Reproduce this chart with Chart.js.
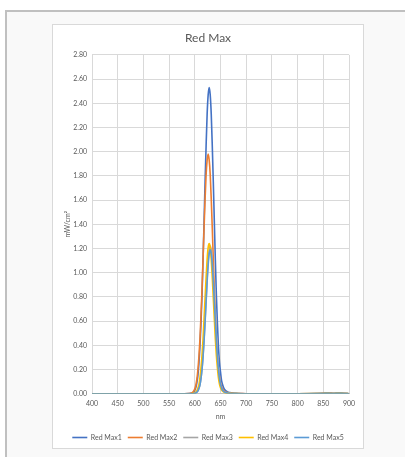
<!DOCTYPE html>
<html><head><meta charset="utf-8">
<script src="https://cdn.jsdelivr.net/npm/chart.js@4/dist/chart.umd.min.js"></script>
<style>
html,body{margin:0;padding:0;background:#fff;width:405px;height:457px;overflow:hidden;}
#frame{position:absolute;left:5px;top:10px;width:400px;height:447px;background:#f9f9f9;border-top:2px solid #c0c0c0;border-left:2px solid #c0c0c0;box-sizing:border-box;}
#box{position:absolute;left:52px;top:24px;width:312px;height:425px;background:#fff;border:1px solid #d9d9d9;box-sizing:border-box;}
#c{position:absolute;left:38px;top:25px;}
</style></head><body>
<div id="frame"></div>
<div id="box"></div>
<canvas id="c" width="340" height="423"></canvas>
<script>
const title = "Red Max";
const xTitle = "nm";
const yTitle = "mW/cm\u00B2";
const seriesNames = ["Red Max1","Red Max2","Red Max3","Red Max4","Red Max5"];
const seriesColors = ["#4472C4","#ED7D31","#A5A5A5","#FFC000","#5B9BD5"];

const wavelengths = [400,450,500,550,570,580,588,592,596,
  598,600,602,604,606,608,610,612,614,616,618,620,622,624,626,628,630,632,634,636,638,640,642,644,646,648,650,652,654,656,658,660,
  664,668,674,680,690,700,750,800,840,850,860,870,880,890,900];

const redMax1 = [0,0,0,0,0,0,0.001,0.003,0.008,
  0.015,0.028,0.05,0.09,0.15,0.25,0.39,0.58,0.81,1.10,1.42,1.75,2.05,2.31,2.47,2.53,2.47,2.31,2.05,1.75,1.42,1.10,0.81,0.58,0.39,0.26,0.18,0.11,0.076,0.05,0.035,0.025,
  0.015,0.01,0.005,0.003,0.001,0,0,0,0.002,0.004,0.006,0.003,0.008,0.003,0];
const redMax2 = [0,0,0,0,0,0,0.001,0.004,0.012,
  0.022,0.04,0.07,0.12,0.196,0.305,0.45,0.64,0.86,1.11,1.37,1.61,1.81,1.93,1.98,1.93,1.81,1.61,1.37,1.11,0.86,0.64,0.45,0.305,0.20,0.14,0.09,0.06,0.04,0.028,0.02,0.015,
  0.01,0.007,0.004,0.002,0.001,0,0,0,0.001,0.003,0.004,0.002,0.005,0.002,0];
const redMax3 = [0,0,0,0,0,0,0,0,0,
  0.001,0.004,0.007,0.013,0.024,0.045,0.073,0.127,0.204,0.31,0.445,0.606,0.78,0.948,1.09,1.186,1.22,1.186,1.09,0.948,0.78,0.606,0.445,0.31,0.204,0.127,0.079,0.049,0.03,0.02,0.015,0.01,
  0.006,0.004,0.002,0.001,0,0,0,0,0.001,0.002,0.003,0.001,0.004,0.001,0];
const redMax4 = [0,0,0,0,0,0,0,0,0.001,
  0.004,0.007,0.014,0.025,0.046,0.074,0.13,0.21,0.315,0.45,0.62,0.79,0.96,1.11,1.21,1.24,1.21,1.11,0.96,0.79,0.62,0.45,0.315,0.21,0.13,0.08,0.05,0.031,0.02,0.015,0.01,0.0075,
  0.005,0.003,0.002,0.001,0,0,0,0,0.001,0.002,0.003,0.001,0.004,0.001,0];
const redMax5 = [0,0,0,0,0,0,0,0,0,
  0.002,0.004,0.007,0.013,0.023,0.044,0.071,0.124,0.199,0.30,0.434,0.59,0.76,0.925,1.064,1.157,1.19,1.157,1.064,0.925,0.76,0.59,0.434,0.30,0.199,0.124,0.077,0.048,0.03,0.02,0.014,0.01,
  0.006,0.004,0.002,0.001,0,0,0,0,0.001,0.002,0.003,0.001,0.004,0.001,0];
const seriesValues = [redMax1, redMax2, redMax3, redMax4, redMax5];

const xMin = 400, xMax = 900, xStep = 50;
const yMin = 0, yMax = 2.8, yStep = 0.2;

const textColor = "#595959";
const gridColor = "#d9d9d9";
const fontFamily = "Lato, 'Open Sans', sans-serif";

const datasets = seriesNames.map((name, i) => ({
  label: name,
  data: wavelengths.map((w, j) => ({x: w, y: seriesValues[i][j]})),
  borderColor: seriesColors[i],
  backgroundColor: seriesColors[i],
  borderWidth: 1.6,
  pointRadius: 0,
  pointStyle: 'line',
  cubicInterpolationMode: 'monotone',
  order: seriesNames.length - i
}));

new Chart(document.getElementById('c'), {
  type: 'line',
  data: {datasets},
  options: {
    responsive: false,
    animation: false,
    devicePixelRatio: 1,
    layout: {padding: {top: 6, left: 0, right: 0, bottom: -3}},
    plugins: {
      tooltip: {enabled: false},
      title: {display: true, text: title, color: textColor,
        font: {family: fontFamily, size: 12, weight: 'normal'}, padding: {top: 0, bottom: 9.5}},
      legend: {position: 'bottom',
        labels: {usePointStyle: true, pointStyle: 'line', pointStyleWidth: 15, boxHeight: 7,
          color: textColor, padding: 6,
          font: {family: fontFamily, size: 7},
          sort: (a, b) => a.datasetIndex - b.datasetIndex}}
    },
    scales: {
      x: {type: 'linear', min: xMin, max: xMax,
        ticks: {stepSize: xStep, color: textColor, font: {family: fontFamily, size: 7}, padding: 6, maxRotation: 0},
        grid: {color: gridColor, drawTicks: false},
        border: {color: '#bfbfbf'},
        title: {display: true, text: xTitle, color: textColor, font: {family: fontFamily, size: 7}, padding: {top: -1.5, bottom: 7}}},
      y: {min: yMin, max: yMax,
        afterFit: s => { s.width = 54; },
        ticks: {stepSize: yStep, color: textColor, font: {family: fontFamily, size: 7}, padding: 5,
          callback: v => Number(v).toFixed(2)},
        grid: {color: gridColor, drawTicks: false},
        border: {color: gridColor},
        title: {display: true, text: yTitle, color: textColor, font: {family: fontFamily, size: 7}, padding: {top: 25.8, bottom: 0}}},
      yRight: {position: 'right', display: true,
        afterFit: s => { s.width = 29; },
        grid: {display: false, drawTicks: false},
        ticks: {display: false},
        border: {display: false}}
    }
  }
});
</script>
</body></html>
